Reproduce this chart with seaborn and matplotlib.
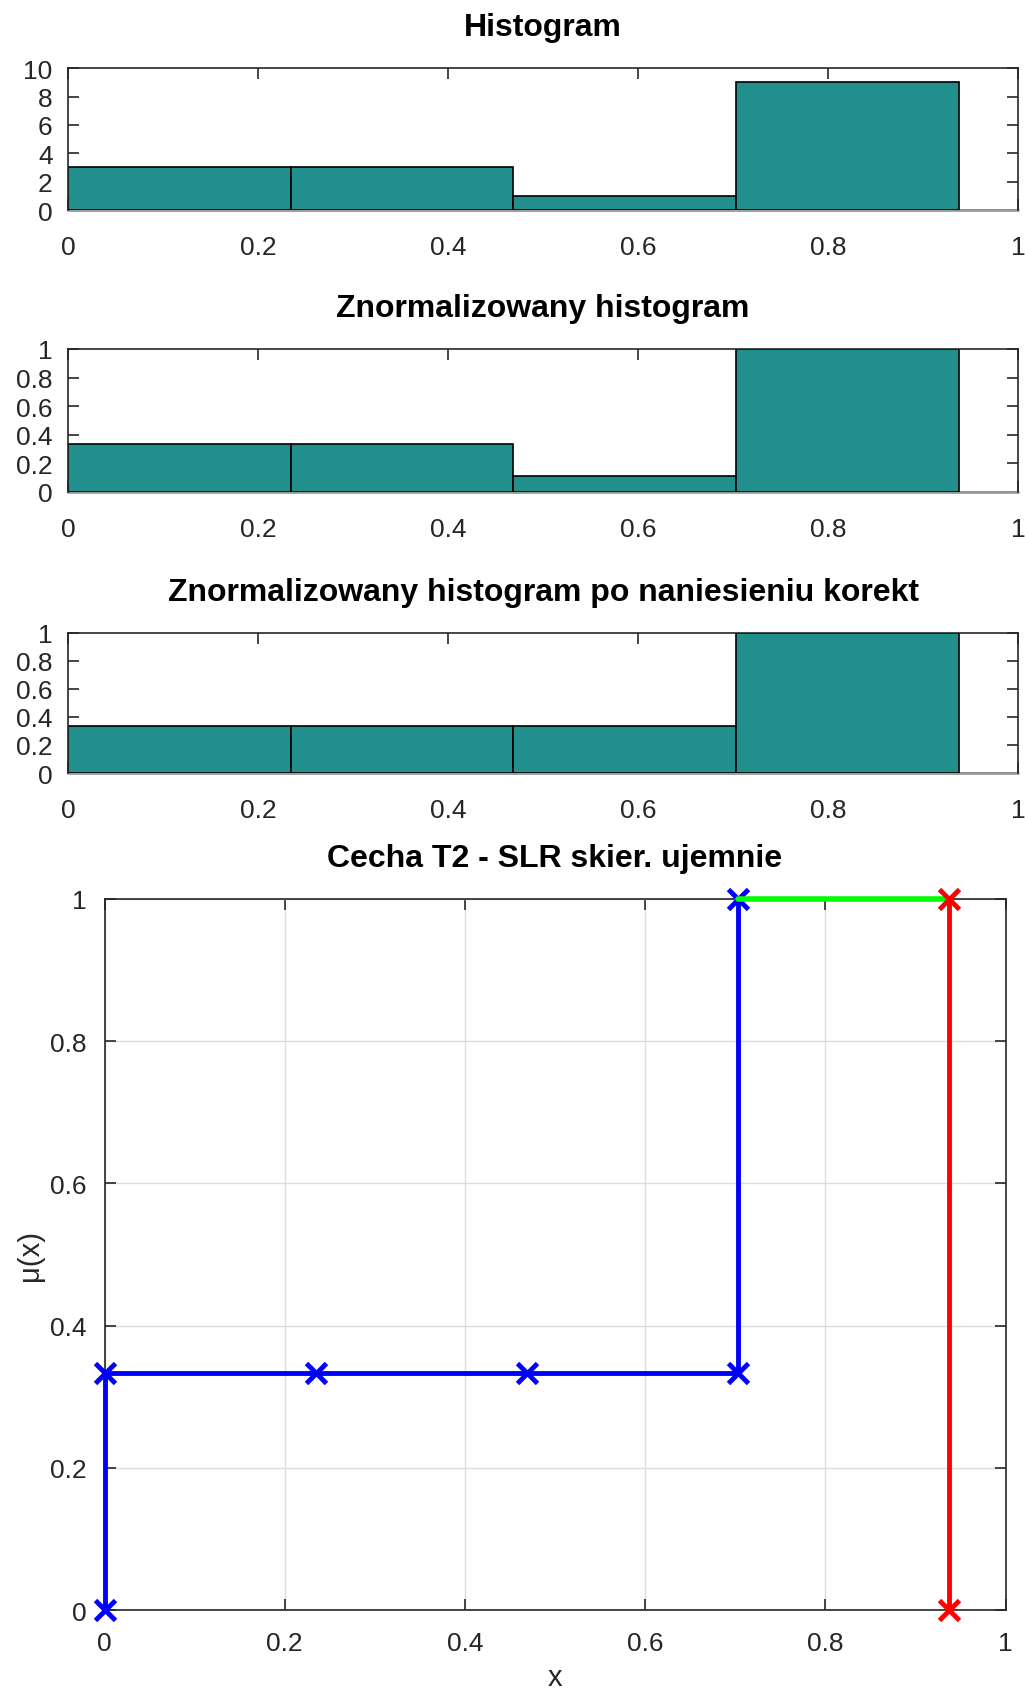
import matplotlib
matplotlib.use("Agg")
import matplotlib.pyplot as plt
import seaborn as sns
import numpy as np
from matplotlib.ticker import FuncFormatter, MultipleLocator

# ---- data ----
bin_edges = [0.0, 0.2344, 0.4688, 0.7031, 0.9375]
counts = [3, 3, 1, 9]
counts_norm = [1/3, 1/3, 1/9, 1.0]
counts_corr = [1/3, 1/3, 1/3, 1.0]

blue_x = [0.0, 0.0, 0.2344, 0.4688, 0.7031, 0.7031]
blue_y = [0.0, 1/3, 1/3, 1/3, 1/3, 1.0]
green_x = [0.7031, 0.9375]
green_y = [1.0, 1.0]
red_x = [0.9375, 0.9375]
red_y = [1.0, 0.0]

titles = ["Histogram", "Znormalizowany histogram",
          "Znormalizowany histogram po naniesieniu korekt"]
title4 = "Cecha T2 - SLR skier. ujemnie"

sns.set_style("ticks")
plt.rcParams['font.family'] = ['Liberation Sans', 'DejaVu Sans']
plt.rcParams['axes.edgecolor'] = '#262626'
plt.rcParams['xtick.color'] = '#262626'
plt.rcParams['ytick.color'] = '#262626'

TEAL = '#21908C'
fig = plt.figure(figsize=(10.25, 16.9), dpi=100)

fmt = FuncFormatter(lambda v, p: f"{v:g}")

def style(ax, xpad, ypad):
    ax.tick_params(direction='in', top=True, right=True, length=8, width=1.2,
                   labelsize=19, colors='#262626')
    ax.tick_params(axis='x', pad=xpad)
    ax.tick_params(axis='y', pad=ypad)
    for s in ax.spines.values():
        s.set_linewidth(1.2)
        s.set_color('#262626')
    ax.xaxis.set_major_formatter(fmt)
    ax.yaxis.set_major_formatter(fmt)

positions = [(0.0663, 0.8751, 0.927, 0.0840),
             (0.0663, 0.7083, 0.927, 0.0846),
             (0.0663, 0.5420, 0.927, 0.0829)]
datas = [counts, counts_norm, counts_corr]
for i in range(3):
    ax = fig.add_axes(positions[i])
    centers = [(bin_edges[j] + bin_edges[j+1]) / 2 for j in range(len(bin_edges)-1)]
    ax.spines['bottom'].set_zorder(0.8)
    ax.axhline(0, color='#9a9a9a', lw=2.0, zorder=0.9, clip_on=False)
    sns.histplot(x=centers, weights=datas[i], bins=bin_edges, ax=ax, color=TEAL,
                 edgecolor='black', linewidth=1.2, alpha=1.0)
    for p in ax.patches:
        p.set_zorder(2)
    ax.set_xlim(0, 1)
    if i == 0:
        ax.set_ylim(0, 10)
        ax.yaxis.set_major_locator(MultipleLocator(2))
    else:
        ax.set_ylim(0, 1)
        ax.yaxis.set_major_locator(MultipleLocator(0.2))
    ax.xaxis.set_major_locator(MultipleLocator(0.2))
    ax.set_ylabel("")
    ax.set_xlabel("")
    style(ax, 18, 11)
    ax.set_title(titles[i], fontsize=23, fontweight='bold', pad=24, color='black')

ax4 = fig.add_axes((0.102, 0.0467, 0.879, 0.4208))
ax4.grid(True, color='#dddddd', lw=1)
ax4.set_axisbelow(True)
lw = 3.5
sns.lineplot(x=blue_x, y=blue_y, ax=ax4, color='#0000ff', lw=lw, sort=False,
             estimator=None, marker='x', markersize=14, markeredgewidth=3.5,
             markeredgecolor='#0000ff')
sns.lineplot(x=green_x, y=green_y, ax=ax4, color='#00ff00', lw=4, sort=False,
             estimator=None)
sns.lineplot(x=red_x, y=red_y, ax=ax4, color='#ff0000', lw=lw, sort=False,
             estimator=None, marker='x', markersize=14, markeredgewidth=3.5,
             markeredgecolor='#ff0000')
for ln in ax4.lines:
    ln.set_clip_on(False)
    ln.set_zorder(4)
ax4.set_xlim(0, 1)
ax4.set_ylim(0, 1)
ax4.xaxis.set_major_locator(MultipleLocator(0.2))
ax4.yaxis.set_major_locator(MultipleLocator(0.2))
style(ax4, 15, 13)
ax4.set_title(title4, fontsize=23, fontweight='bold', pad=24, color='black')
ax4.set_xlabel("x", fontsize=21, color='#262626', labelpad=6)
ax4.set_ylabel("μ(x)", fontsize=21, color='#262626', labelpad=4)

fig.savefig("out.png", dpi=100)
